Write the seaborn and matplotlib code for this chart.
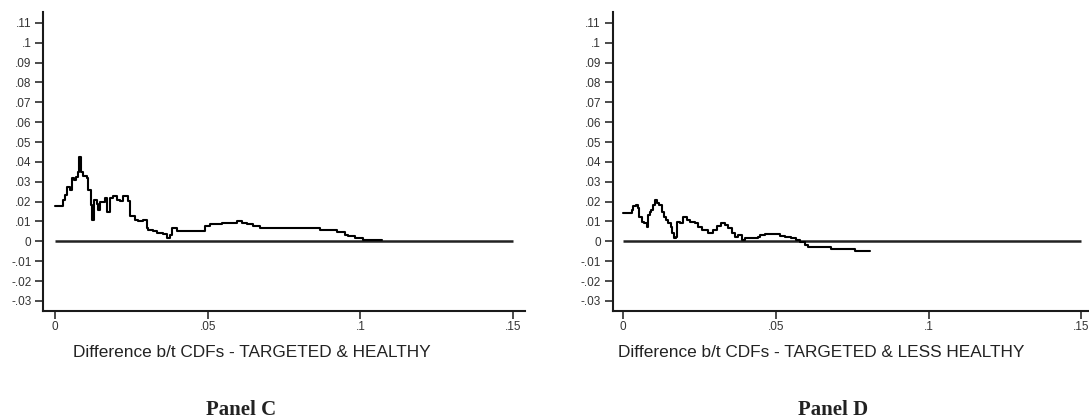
import numpy as np
import pandas as pd
import matplotlib
matplotlib.use("Agg")
import matplotlib.pyplot as plt
import seaborn as sns

# Difference between CDFs, targeted vs healthy (Panel C)
c_x = [0.0, 0.0027, 0.0032, 0.0040, 0.0049, 0.0055, 0.0062, 0.0068, 0.0075, 0.0079,
       0.0084, 0.0092, 0.0103, 0.0109, 0.0117, 0.0122, 0.0128, 0.0136, 0.0141, 0.0147,
       0.0158, 0.0163, 0.0171, 0.0180, 0.0191, 0.0202, 0.0213, 0.0221, 0.0232, 0.0238,
       0.0245, 0.0262, 0.0272, 0.0289, 0.0300, 0.0305, 0.0322, 0.0333, 0.0354, 0.0365,
       0.0376, 0.0384, 0.0398, 0.0485, 0.0491, 0.0507, 0.0546, 0.0595, 0.0611, 0.0627,
       0.0649, 0.0671, 0.0867, 0.0923, 0.0949, 0.0959, 0.0982, 0.1008, 0.1070]
c_y = [0.0177, 0.0209, 0.0234, 0.0276, 0.0259, 0.0318, 0.0310, 0.0326, 0.0351, 0.0426,
       0.0350, 0.0330, 0.0318, 0.0260, 0.0184, 0.0109, 0.0209, 0.0190, 0.0159, 0.0200,
       0.0200, 0.0218, 0.0150, 0.0218, 0.0226, 0.0210, 0.0202, 0.0226, 0.0226, 0.0202,
       0.0125, 0.0109, 0.0101, 0.0105, 0.0067, 0.0058, 0.0050, 0.0042, 0.0035, 0.0016,
       0.0030, 0.0066, 0.0050, 0.0051, 0.0078, 0.0086, 0.0094, 0.0100, 0.0094, 0.0088,
       0.0078, 0.0067, 0.0059, 0.0047, 0.0034, 0.0025, 0.0017, 0.0009, 0.0009]

# Difference between CDFs, targeted vs less healthy (Panel D)
d_x = [0.0, 0.0028, 0.0033, 0.0041, 0.0048, 0.0052, 0.0061, 0.0069, 0.0077, 0.0082,
       0.0088, 0.0093, 0.0099, 0.0104, 0.0112, 0.0118, 0.0126, 0.0135, 0.0142, 0.0148,
       0.0156, 0.0161, 0.0166, 0.0173, 0.0177, 0.0186, 0.0197, 0.0208, 0.0219, 0.0235,
       0.0246, 0.0259, 0.0278, 0.0295, 0.0306, 0.0320, 0.0333, 0.0344, 0.0355, 0.0366,
       0.0376, 0.0388, 0.0398, 0.0442, 0.0447, 0.0464, 0.0496, 0.0513, 0.0529, 0.0551,
       0.0565, 0.0578, 0.0594, 0.0605, 0.0643, 0.0682, 0.0758, 0.0807]
d_y = [0.0141, 0.0160, 0.0178, 0.0183, 0.0166, 0.0124, 0.0099, 0.0091, 0.0071, 0.0133,
       0.0150, 0.0158, 0.0183, 0.0208, 0.0191, 0.0183, 0.0150, 0.0124, 0.0108, 0.0091,
       0.0074, 0.0040, 0.0015, 0.0023, 0.0098, 0.0091, 0.0120, 0.0108, 0.0099, 0.0091,
       0.0071, 0.0057, 0.0044, 0.0057, 0.0077, 0.0091, 0.0083, 0.0065, 0.0040, 0.0023,
       0.0032, 0.0007, 0.0015, 0.0023, 0.0032, 0.0037, 0.0035, 0.0027, 0.0020, 0.0015,
       0.0005, -0.0005, -0.0019, -0.0027, -0.0030, -0.0039, -0.0047, -0.0047]

x_ticks = [0.0, 0.05, 0.10, 0.15]
x_tick_labels = ["0", ".05", ".1", ".15"]
y_ticks = [-0.03, -0.02, -0.01, 0.0, 0.01, 0.02, 0.03, 0.04, 0.05, 0.06, 0.07,
           0.08, 0.09, 0.10, 0.11]
y_tick_labels = ["-.03", "-.02", "-.01", "0", ".01", ".02", ".03", ".04", ".05",
                 ".06", ".07", ".08", ".09", ".1", ".11"]

x_labels = ["Difference b/t CDFs - TARGETED & HEALTHY",
            "Difference b/t CDFs - TARGETED & LESS HEALTHY"]
panel_titles = ["Panel C", "Panel D"]

sns.set_style("ticks")
plt.rcParams["font.family"] = ["Liberation Sans", "DejaVu Sans"]

W, H = 1089, 419
fig = plt.figure(figsize=(W / 100, H / 100), dpi=100)

def px_box(left, right, top, bottom):
    return [left / W, 1 - bottom / H, (right - left) / W, (bottom - top) / H]

axes = [fig.add_axes(px_box(43.3, 525.0, 12, 311)),
        fig.add_axes(px_box(612.7, 1094.4, 12, 311))]
xlims = [(-0.00386, 0.1539), (-0.0034, 0.1543)]
series = [(c_x, c_y), (d_x, d_y)]

ink = "#1a1a1a"
for ax, (xs, ys), xl in zip(axes, series, xlims):
    df = pd.DataFrame({"x": xs, "y": ys})
    sns.lineplot(data=df, x="x", y="y", ax=ax, color="black", linewidth=1.5,
                 drawstyle="steps-post", estimator=None, sort=False)
    ax.hlines(0, 0, 0.15, color="#222222", linewidth=1.8, zorder=1)
    ax.set_xlim(*xl)
    ax.set_ylim(-0.0351, 0.1155)
    ax.set_xticks(x_ticks)
    ax.set_xticklabels(x_tick_labels)
    ax.set_yticks(y_ticks)
    ax.set_yticklabels(y_tick_labels)
    ax.set_xlabel("")
    ax.set_ylabel("")
    for s in ("top", "right"):
        ax.spines[s].set_visible(False)
    for s in ("left", "bottom"):
        ax.spines[s].set_linewidth(1.5)
        ax.spines[s].set_color(ink)
    ax.tick_params(axis="both", direction="out", length=5.5, width=1.1,
                   color=ink, labelsize=8.5, labelcolor="#333333")
    ax.tick_params(axis="y", pad=3)
    ax.tick_params(axis="x", pad=2)
    ax.set_facecolor("white")

label_pos = [(251.4, 352), (821.1, 352)]
title_pos = [(240.7, 410), (833.0, 410)]
for (lx, ly), text in zip(label_pos, x_labels):
    fig.text(lx / W, 1 - ly / H, text, ha="center", va="center",
             fontsize=12.4, color="#222222")
for (tx, ty), text in zip(title_pos, panel_titles):
    fig.text(tx / W, 1 - ty / H, text, ha="center", va="center",
             fontsize=15, fontweight="bold", color="#222222",
             family=["Liberation Serif", "DejaVu Serif"])

fig.savefig("out.png", dpi=100, facecolor="white")
